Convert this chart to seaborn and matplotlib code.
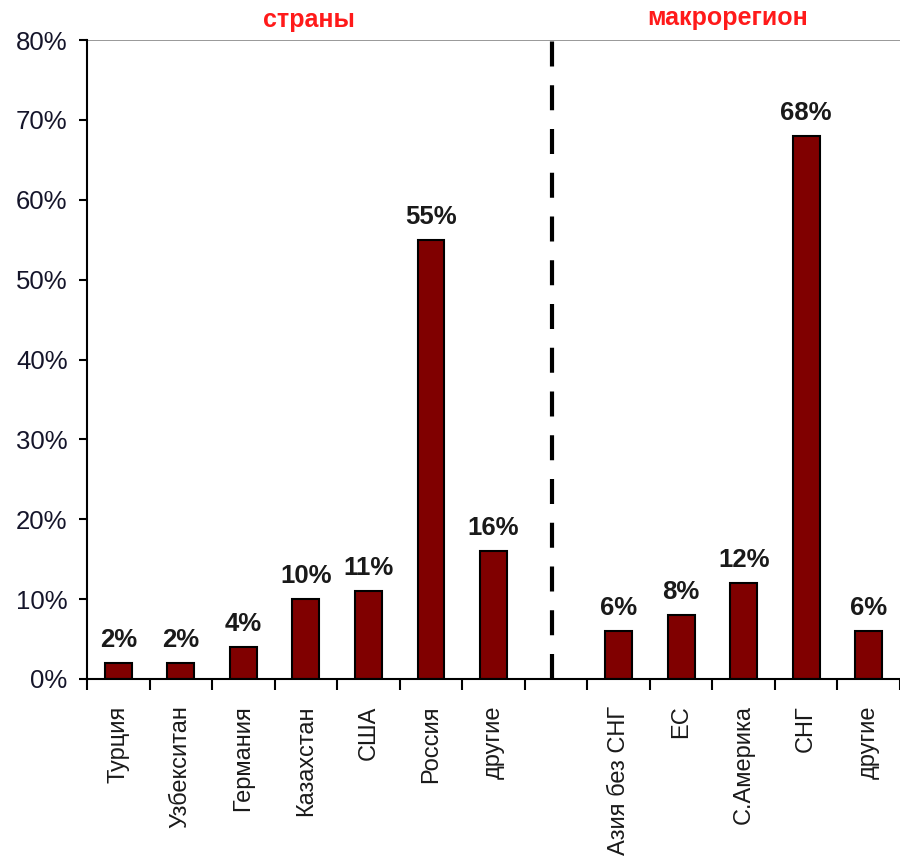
"""
Export shares: countries vs macro-regions bar chart
"""

import matplotlib.pyplot as plt
import pandas as pd
import seaborn as sns

countries = ["Турция", "Узбекситан", "Германия", "Казахстан", "США", "Россия", "другие"]
country_share = [2, 2, 4, 10, 11, 55, 16]
regions = ["Азия без СНГ", "ЕС", "С.Америка", "СНГ", "другие"]
region_share = [6, 8, 12, 68, 6]
group_titles = ["страны", "макрорегион"]

sns.set_style("ticks")
plt.rcParams["font.family"] = ["Liberation Sans", "DejaVu Sans"]

# one empty slot between the two groups, where the dashed divider goes
slots = list(range(len(countries))) + [len(countries) + 1 + i for i in range(len(regions))]
df = pd.DataFrame({
    "slot": slots,
    "label": countries + regions,
    "share": country_share + region_share,
})

fig = plt.figure(figsize=(9, 8.57), dpi=100)
ax = fig.add_axes([87 / 900, 1 - 679 / 857, 1 - 87 / 900, (679 - 40) / 857])

sns.barplot(data=df, x="slot", y="share", native_scale=True, color="#800000",
            edgecolor="black", linewidth=1.5, width=0.43, saturation=1, ax=ax)

ax.bar_label(ax.containers[0], fmt="%g%%", padding=8, fontsize=18.5,
             fontweight="bold", color="#1a1a1a")

ax.set_xlim(-0.47, 12.38)
ax.set_ylim(0, 80)
ax.set_yticks(range(0, 81, 10))
ax.set_yticklabels([f"{v}%" for v in range(0, 81, 10)], fontsize=18.5, color="#15152a")
ax.tick_params(axis="y", length=6, width=1.5, color="black", pad=8)

ax.set_xticks(df["slot"])
ax.set_xticklabels(df["label"], rotation=90, fontsize=17, color="#1a1a1a")
ax.set_xticks([i - 0.5 for i in range(14)], minor=True)
ax.tick_params(axis="x", which="major", length=0, pad=19)
ax.tick_params(axis="x", which="minor", length=8, width=1.5, color="black")
ax.set_xlabel("")
ax.set_ylabel("")

for side in ["top", "right"]:
    ax.spines[side].set_visible(False)
for side in ["left", "bottom"]:
    ax.spines[side].set_linewidth(1.5)
    ax.spines[side].set_color("black")

# thin grey line at the top value
ax.axhline(80, color="#888888", linewidth=1.2, zorder=0)

# group divider
ax.plot([6.93, 6.93], [0, 81], color="black", linewidth=3, dashes=(6, 4.5), clip_on=False)

ax.text(3.05, 82.5, group_titles[0], ha="center", va="center", fontsize=18,
        fontweight="bold", color="#ff1a1a")
ax.text(9.75, 82.7, group_titles[1], ha="center", va="center", fontsize=18,
        fontweight="bold", color="#ff1a1a")

fig.savefig("out.png", dpi=100)
